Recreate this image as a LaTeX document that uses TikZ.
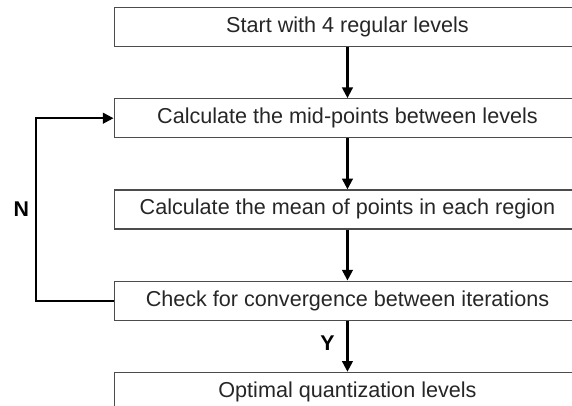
\documentclass[tikz,border=0pt]{standalone}
\usepackage{fontspec}
\setmainfont{Liberation Sans}
\usetikzlibrary{positioning,arrows.meta}
\begin{document}
\begin{tikzpicture}[
        stepbox/.style={draw=black!70, line width=0.9pt, minimum width=350pt, minimum height=29.25pt,
            inner sep=0pt, font=\fontsize{16.2}{19}\selectfont, text=black!85},
        flow/.style={-{Triangle[length=8pt,width=8pt]}, line width=1.6pt},
        lbl/.style={font=\fontsize{16}{19}\selectfont\bfseries}
    ]
        \useasboundingbox (0,0) rectangle (429pt,303.75pt);
        \node[stepbox] (start) at (260.6pt,283.5pt) {Start with 4 regular levels};
        \node[stepbox, below=38.25pt of start] (mid) {Calculate the mid-points between levels};
        \node[stepbox, below=38.25pt of mid] (mean) {Calculate the mean of points in each region};
        \node[stepbox, below=38.25pt of mean] (check) {Check for convergence between iterations};
        \node[stepbox, below=38.25pt of check] (opt) {Optimal quantization levels};
        \draw[flow] (start) -- (mid);
        \draw[flow] (mid) -- (mean);
        \draw[flow] (mean) -- (check);
        \draw[flow] (check) -- node[lbl, left=5.5pt, pos=0.45] (yes) {Y} (opt);
        % loop back
        \coordinate (loop) at (27pt,0);
        \draw[flow] (check.west) -- (check.west -| loop)
            -- node[lbl, left=1pt] (no) {N} (mid.west -| loop) -- (mid.west);
    \end{tikzpicture}
\end{document}
